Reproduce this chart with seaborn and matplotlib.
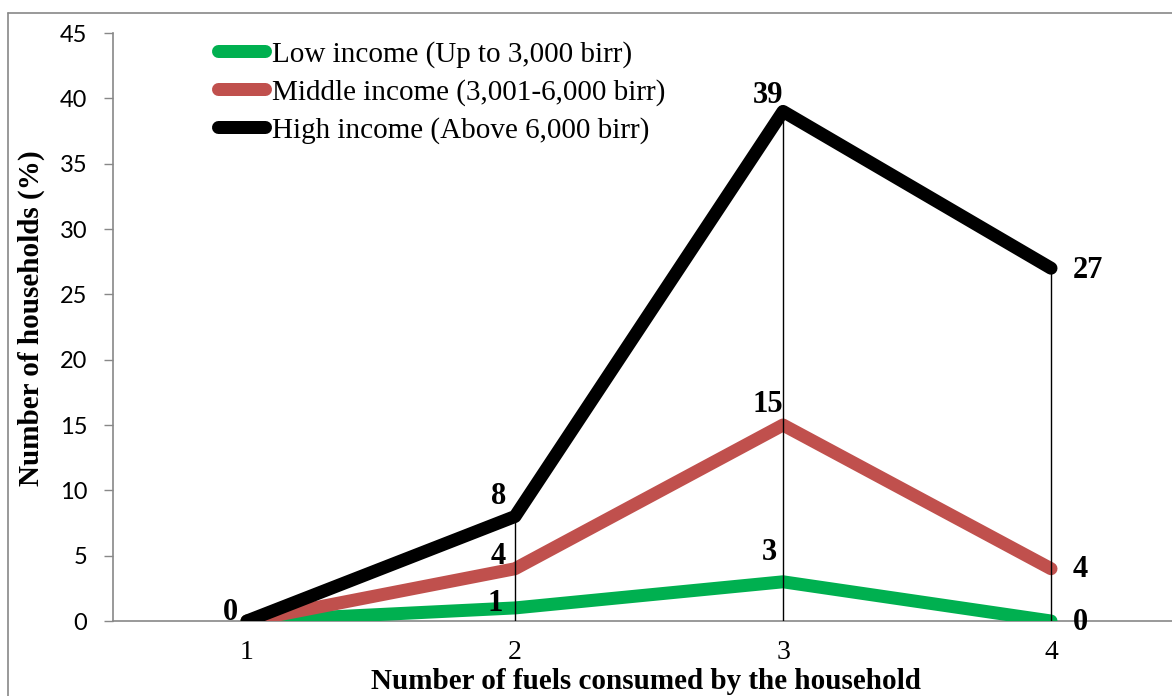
import matplotlib
matplotlib.use("Agg")
import matplotlib.pyplot as plt
import seaborn as sns
import pandas as pd
from matplotlib.lines import Line2D

# ---- data ----
fuels = [1, 2, 3, 4]
low_income = [0, 1, 3, 0]
middle_income = [0, 4, 15, 4]
high_income = [0, 8, 39, 27]
series_names = ["Low income (Up to 3,000 birr)",
                "Middle income (3,001-6,000 birr)",
                "High income (Above 6,000 birr)"]
low_labels = [None, "1", "3", "0"]
middle_labels = [None, "4", "15", "4"]
high_labels = ["0", "8", "39", "27"]
y_ticks = [0, 5, 10, 15, 20, 25, 30, 35, 40, 45]
x_title = "Number of fuels consumed by the household"
y_title = "Number of households (%)"

colors = ["#00B050", "#C0504D", "#000000"]

df = pd.DataFrame({
    "fuels": fuels * 3,
    "value": low_income + middle_income + high_income,
    "series": [series_names[0]] * 4 + [series_names[1]] * 4 + [series_names[2]] * 4,
})

sns.set_theme(style="white")
plt.rcParams["text.color"] = "black"
plt.rcParams["axes.labelcolor"] = "black"
plt.rcParams["xtick.color"] = "black"
plt.rcParams["ytick.color"] = "black"

W, H = 1172, 696
fig = plt.figure(figsize=(W / 100, H / 100), dpi=100)
ax = fig.add_axes([113 / W, (H - 621) / H, (1185 - 113) / W, (621 - 33) / H])

lw = 13 * 0.72
for name, col in zip(series_names, colors):
    sub = df[df["series"] == name]
    sns.lineplot(data=sub, x="fuels", y="value", ax=ax, color=col, linewidth=lw,
                 solid_capstyle="round", label=name, legend=False, zorder=3)

# drop lines
ax.vlines(fuels[1:], 0, high_income[1:], color="black", linewidth=1.0, zorder=5)

ax.set_xlim(0.5, 4.5)
ax.set_ylim(0, 45)
ax.set_yticks(y_ticks)
ax.set_xticks(fuels)
ax.set_xticklabels([str(f) for f in fuels], fontfamily="Liberation Serif", fontsize=20)
ax.set_yticklabels([str(t) for t in y_ticks], fontfamily="Lato", fontsize=17)
ax.tick_params(axis="x", length=0, pad=14, colors="black")
ax.tick_params(axis="y", length=6.5, width=1, color="#888888", labelcolor="black", pad=12, left=True)

for s in ["top", "right"]:
    ax.spines[s].set_visible(False)
for s in ["left", "bottom"]:
    ax.spines[s].set_color("#888888")
    ax.spines[s].set_linewidth(1.2)

ax.set_xlabel(x_title, fontfamily="Liberation Serif", fontweight="bold", fontsize=21, color="black")
ax.set_ylabel(y_title, fontfamily="Liberation Serif", fontweight="bold", fontsize=21, color="black")
ax.xaxis.set_label_coords((646 - 113) / 1072, (621 - 668) / 588)
ax.yaxis.set_label_coords((45 - 113) / 1072, (621 - 318) / 588)

# data labels (offsets in pixels)
offsets = {
    "low": [None, (-20, 4), (-14, 29), (29, -1)],
    "middle": [None, (-17, 12), (-15, 20), (29, -1)],
    "high": [(-17, 8), (-16, 20), (-15, 16), (37, -2)],
}
for key, vals, labs in [("low", low_income, low_labels),
                        ("middle", middle_income, middle_labels),
                        ("high", high_income, high_labels)]:
    for i, (xv, yv, lab) in enumerate(zip(fuels, vals, labs)):
        if lab is None:
            continue
        ax.annotate(lab, (xv, yv), xytext=offsets[key][i], textcoords="offset pixels",
                    ha="center", va="center", fontfamily="Liberation Serif",
                    fontweight="bold", fontsize=22, color="black", zorder=6,
                    annotation_clip=False)

leg = ax.legend(loc="upper left", bbox_to_anchor=(218 / W, 1 - 41 / H),
                bbox_transform=fig.transFigure, frameon=False,
                prop={"family": "Liberation Serif", "size": 21},
                handlelength=1.6, handletextpad=0.25, labelspacing=0.38,
                borderpad=0, borderaxespad=0)
for h in leg.get_lines():
    h.set_solid_capstyle("round")
    h.set_linewidth(lw)
for t in leg.get_texts():
    t.set_color("black")

# outer chart border
fig.add_artist(Line2D([8 / W, 8 / W], [0, 1 - 13 / H], transform=fig.transFigure,
                      color="#888888", linewidth=1.2))
fig.add_artist(Line2D([8 / W, 1], [1 - 13 / H, 1 - 13 / H], transform=fig.transFigure,
                      color="#888888", linewidth=1.2))

fig.savefig("out.png", dpi=100)
